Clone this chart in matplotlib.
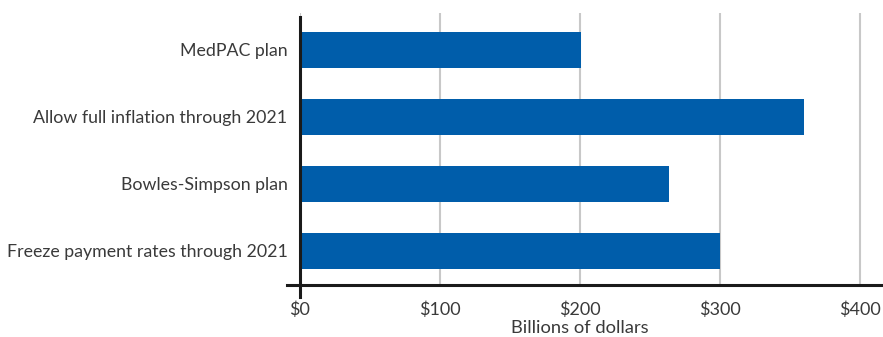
import matplotlib.pyplot as plt

# data
plans = ['MedPAC plan', 'Allow full inflation through 2021',
         'Bowles-Simpson plan', 'Freeze payment rates through 2021']
cost = [201, 360, 264, 300]
xticks = [0, 100, 200, 300, 400]
xtick_labels = ['$0', '$100', '$200', '$300', '$400']

plt.rcParams['font.family'] = ['Lato', 'DejaVu Sans']
text_col = '#3a3a3a'

fig = plt.figure(figsize=(8.83, 3.37), dpi=100)
ax = fig.add_axes([300/883, 52/337, 582/883, 272/337])

ypos = list(range(len(plans)))
ax.barh(ypos, cost, height=0.54, color='#005DAA', zorder=3)

ax.set_xlim(0, 416)
ax.set_ylim(3.508, -0.552)

ax.set_xticks(xticks)
ax.set_xticklabels(xtick_labels)
ax.set_yticks(ypos)
ax.set_yticklabels(plans)
ax.tick_params(axis='x', length=0, pad=12, labelsize=13, labelcolor=text_col)
ax.tick_params(axis='y', length=0, pad=9, labelsize=12.8, labelcolor=text_col)

ax.grid(axis='x', color='#c8c8c8', linewidth=1.5, zorder=0)
for s in ax.spines.values():
    s.set_visible(False)

# axis lines that overshoot a bit, like the original
ax.plot([-0.022, 1.0], [0, 0], transform=ax.transAxes, color='#1a1a1a',
        linewidth=2.2, clip_on=False, zorder=4)
ax.plot([0, 0], [-0.044, 0.985], transform=ax.transAxes, color='#1a1a1a',
        linewidth=2.2, clip_on=False, zorder=4)

ax.set_xlabel('Billions of dollars', fontsize=13.2, color=text_col)
ax.xaxis.set_label_coords(0.481, -0.13)

fig.savefig('out.png', dpi=100)
